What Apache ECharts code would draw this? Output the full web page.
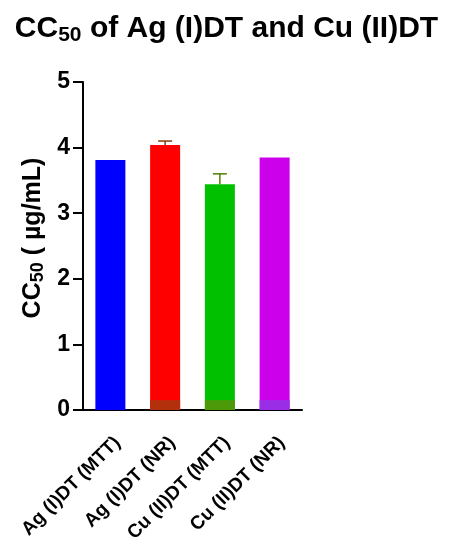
<!DOCTYPE html>
<html>
<head>
<meta charset="utf-8">
<script src="https://cdn.jsdelivr.net/npm/echarts@6/dist/echarts.min.js"></script>
<style>
  html, body { margin: 0; padding: 0; background: #fff; }
  #chart { width: 453px; height: 550px; }
</style>
</head>
<body>
<div id="chart"></div>
<script>
const categories = ["Ag (I)DT (MTT)", "Ag (I)DT (NR)", "Cu (II)DT (MTT)", "Cu (II)DT (NR)"];
const cc50 = [3.81, 4.04, 3.44, 3.85];
const cc50Err = [0, 0.06, 0.16, 0];
const baseBand = [0, 0.15, 0.15, 0.15];
const yTicks = [0, 1, 2, 3, 4, 5];

const barColors = ["#0000ff", "#ff0000", "#00c000", "#cc00ea"];
const bandColors = ["#0000ff", "#b3300c", "#4c9a0a", "#9a2ee6"];
const errColors = ["#000", "#8a3a10", "#4f7f00", "#000"];

const chart = echarts.init(document.getElementById("chart"));
const font = "Liberation Sans, Arial, sans-serif";

chart.setOption({
  animation: false,
  title: {
    text: "{a|CC}{s|50}{a| of Ag (I)DT and Cu (II)DT}",
    left: "center",
    top: 7,
    textStyle: {
      rich: {
        a: { fontFamily: font, fontWeight: "bold", fontSize: 30, color: "#000", lineHeight: 34 },
        s: { fontFamily: font, fontWeight: "bold", fontSize: 21, color: "#000", lineHeight: 34, padding: [13, 0, 0, 0] }
      }
    }
  },
  grid: { left: 83, right: 151, top: 82, bottom: 140 },
  xAxis: {
    type: "category",
    data: categories,
    axisLine: { lineStyle: { color: "#000", width: 2 } },
    axisTick: { show: false },
    axisLabel: {
      rotate: 45,
      interval: 0,
      margin: 37,
      padding: [0, -10, 0, 0],
      color: "#000",
      fontFamily: font,
      fontWeight: "bold",
      fontSize: 19
    }
  },
  yAxis: {
    type: "value",
    min: 0,
    max: 5,
    interval: 1,
    name: "{a|CC}{s|50}{a| ( µg/mL)}",
    nameLocation: "middle",
    nameGap: 35,
    nameTextStyle: {
      padding: [0, 0, 0, 16],
      rich: {
        a: { fontFamily: font, fontWeight: "bold", fontSize: 25, color: "#000", lineHeight: 30 },
        s: { fontFamily: font, fontWeight: "bold", fontSize: 18, color: "#000", lineHeight: 30, padding: [10, 0, 0, 0] }
      }
    },
    axisLine: { show: true, lineStyle: { color: "#000", width: 2 } },
    axisTick: { show: true, length: 10, lineStyle: { color: "#000", width: 2 } },
    splitLine: { show: false },
    axisLabel: {
      color: "#000",
      fontFamily: font,
      fontWeight: "bold",
      fontSize: 23,
      margin: 13,
      formatter: v => (yTicks.includes(v) ? String(v) : "")
    }
  },
  series: [
    {
      type: "bar",
      barWidth: 30,
      data: cc50.map((v, i) => ({ value: v, itemStyle: { color: barColors[i] } }))
    },
    {
      type: "bar",
      barWidth: 30,
      barGap: "-100%",
      data: baseBand.map((v, i) => ({ value: v, itemStyle: { color: bandColors[i] } }))
    },
    {
      type: "custom",
      data: cc50.map((v, i) => [i, v, cc50Err[i]]),
      renderItem: (params, api) => {
        const i = api.value(0);
        const err = api.value(2);
        if (!err) return null;
        const base = api.coord([i, api.value(1)]);
        const top = api.coord([i, api.value(1) + err]);
        const c = errColors[i];
        return {
          type: "group",
          children: [
            { type: "line", shape: { x1: base[0], y1: base[1], x2: top[0], y2: top[1] }, style: { stroke: c, lineWidth: 1.5 } },
            { type: "line", shape: { x1: top[0] - 7, y1: top[1], x2: top[0] + 7, y2: top[1] }, style: { stroke: c, lineWidth: 1.5 } }
          ]
        };
      },
      z: 5
    }
  ]
});
</script>
</body>
</html>
